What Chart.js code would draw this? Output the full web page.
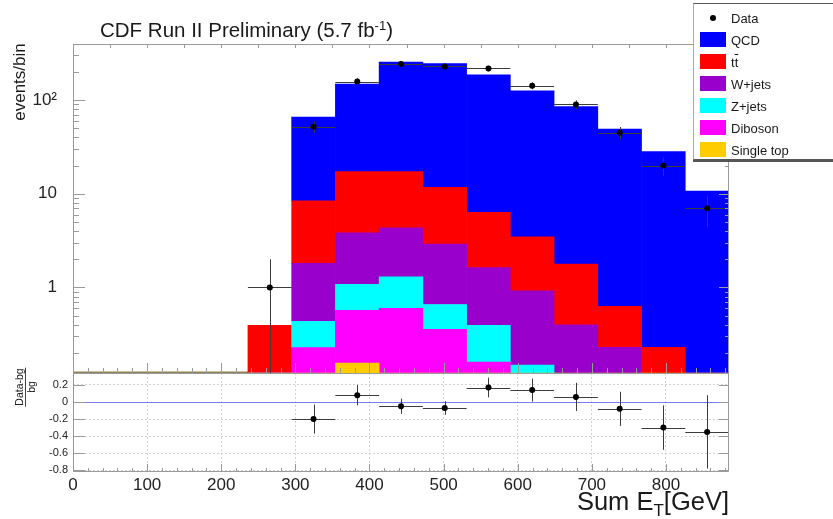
<!DOCTYPE html>
<html>
<head>
<meta charset="utf-8">
<title>Sum ET distribution</title>
<script src="https://cdn.jsdelivr.net/npm/chart.js@4.4.0/dist/chart.umd.min.js"></script>
<style>
  html, body { margin: 0; padding: 0; background: #fff; }
  #wrap { position: relative; width: 833px; height: 519px; overflow: hidden;
          font-family: "Liberation Sans", Arial, sans-serif; color: #1a1a1a; }
  canvas { position: absolute; left: 0; }
  #main { top: 0; }
  #ratio { top: 372px; }
  .txt { position: absolute; white-space: nowrap; line-height: 1; }
  #title { left: 100px; top: 20px; font-size: 20.5px; }
  #title sup { font-size: 13px; line-height: 0; vertical-align: 0.55em; }
  #ytitle { left: 19px; top: 82px; font-size: 17px; transform: translate(-50%, -50%) rotate(-90deg); }
  #rtitle { left: 25px; top: 387px; font-size: 10.5px; text-align: center;
            transform: translate(-50%, -50%) rotate(-90deg); }
  #rtitle span { display: block; padding: 0 1px; }
  #rtitle span:first-child { border-bottom: 1px solid #444; }
  #xtitle { right: 104px; top: 489px; font-size: 25.5px; }
  #xtitle sub { font-size: 17px; line-height: 0; vertical-align: -0.35em; }
  #legend { position: absolute; left: 693px; top: 3px; width: 150px; height: 155px; background: #fff;
            border: 1px solid #555; border-left-color: #aaa; box-shadow: 0 2px 0 #555; }
  .row { position: absolute; left: 0; width: 100%; height: 22px; font-size: 13px; }
  .sw { position: absolute; left: 6px; top: 3px; width: 26px; height: 15px; }
  .dot { position: absolute; left: 16px; top: 8px; width: 6px; height: 6px; border-radius: 50%; background: #000; }
  .lab { position: absolute; left: 37px; top: 5px; line-height: 1; white-space: nowrap; }
  .ovl { text-decoration: overline; }
</style>
</head>
<body>
<div id="wrap">
  <canvas id="main" width="833" height="373"></canvas>
  <canvas id="ratio" width="833" height="147"></canvas>
  <div id="title" class="txt">CDF Run II Preliminary (5.7 fb<sup>-1</sup>)</div>
  <div id="ytitle" class="txt">events/bin</div>
  <div id="rtitle" class="txt"><span>Data-bg</span><span>bg</span></div>
  <div id="xtitle" class="txt">Sum E<sub>T</sub>[GeV]</div>
  <div id="legend"></div>
</div>
<script>
// bin centres in GeV (bins are 59 GeV wide)
const binCenters = [265.5, 324.5, 383.5, 442.5, 501.5, 560.5, 619.5, 678.5, 737.5, 796.5, 855.5];
const binWidth = 59;

// expected backgrounds per bin, stacked bottom to top
const singleTop = [0, 0.08, 0.156, 0.1, 0.08, 0.05, 0.03, 0.02, 0.01, 0.005, 0];
const diboson   = [0, 0.148, 0.414, 0.5, 0.278, 0.11, 0.07, 0.03, 0.02, 0.015, 0.01];
const zJets     = [0, 0.208, 0.51, 0.7, 0.3, 0.235, 0.048, 0.05, 0.03, 0.02, 0.01];
const wJets     = [0, 1.37, 2.76, 3.04, 2.24, 1.23, 0.77, 0.3, 0.17, 0.06, 0.03];
const ttbar     = [0.395, 6.62, 13.4, 12.9, 8.8, 4.72, 2.56, 1.38, 0.4, 0.13, 0.05];
const qcd       = [0, 57.4, 131, 238, 234, 180, 122.5, 83.7, 48.4, 28.0, 10.6];

// observed events and their errors
const data    = [1, 52, 158, 243, 229, 218, 143, 90, 45, 20, 7];
const dataErr = [1, 7.2, 12.6, 15.6, 15.1, 14.8, 12.0, 9.5, 6.7, 4.5, 2.6];

// (data - bg) / bg
const ratio    = [null, -0.2, 0.08, -0.05, -0.07, 0.17, 0.14, 0.06, -0.08, -0.3, -0.35];
const ratioErr = [null, 0.17, 0.12, 0.09, 0.08, 0.115, 0.135, 0.165, 0.2, 0.26, 0.43];

// tick labels
const xTicks = [0, 100, 200, 300, 400, 500, 600, 700, 800];
const yTicks = [1, 10, 100];
const yTickLabels = ['1', '10', '10\u00b2'];
const ratioTicks = [-0.8, -0.6, -0.4, -0.2, 0, 0.2];

const xMax = 885;

Chart.defaults.font.family = '"Liberation Sans", Arial, sans-serif';
Chart.defaults.color = '#222';

const backgrounds = [
  { label: 'Single top', html: 'Single top', color: '#ffcc00', values: singleTop },
  { label: 'Diboson', html: 'Diboson', color: '#ff00ff', values: diboson },
  { label: 'Z+jets', html: 'Z+jets', color: '#00ffff', values: zJets },
  { label: 'W+jets', html: 'W+jets', color: '#9900cc', values: wJets },
  { label: 'ttbar', html: 't<span class="ovl">t</span>', color: '#ff0000', values: ttbar },
  { label: 'QCD', html: 'QCD', color: '#0000ff', values: qcd },
];

const pts = (vals) => binCenters.map((x, i) => ({ x, y: vals[i] })).filter(p => p.y !== null);

// fixed axis sizes, and no extra room reserved for end labels
const fixWidth = (w) => (s) => { s.width = w; s.paddingTop = 0; s.paddingBottom = 0; };
const fixHeight = (h) => (s) => { s.height = h; s.paddingLeft = 0; s.paddingRight = 0; };

// ROOT style frame: thin box with inward ticks on all four sides
const rootFrame = {
  id: 'rootFrame',
  beforeDatasetsDraw(chart, args, opts) {
    const { ctx, chartArea: a, scales: { y } } = chart;
    ctx.save();
    if (opts.baseLine) {
      ctx.strokeStyle = opts.baseLine;
      ctx.lineWidth = 1.5;
      ctx.beginPath();
      ctx.moveTo(a.left, a.bottom - 0.75);
      ctx.lineTo(a.right, a.bottom - 0.75);
      ctx.stroke();
    }
    if (opts.zeroLine) {
      const py = Math.round(y.getPixelForValue(0)) + 0.5;
      ctx.strokeStyle = opts.zeroLine;
      ctx.lineWidth = 1.2;
      ctx.beginPath();
      ctx.moveTo(a.left, py);
      ctx.lineTo(a.right, py);
      ctx.stroke();
    }
    ctx.restore();
  },
  afterDatasetsDraw(chart, args, opts) {
    const { ctx, chartArea: a, scales: { x, y } } = chart;
    const line = (x0, y0, x1, y1) => { ctx.beginPath(); ctx.moveTo(x0, y0); ctx.lineTo(x1, y1); ctx.stroke(); };
    ctx.save();
    ctx.lineWidth = 1;
    ctx.strokeStyle = '#9a9a9a';

    for (let v = 0; v <= x.max; v += 20) {
      const px = Math.round(x.getPixelForValue(v)) + 0.5;
      line(px, a.bottom, px, a.bottom - (v % 100 === 0 ? opts.xMajor : opts.xMinor));
    }
    if (opts.topStep) {
      for (let v = 0; v <= x.max; v += opts.topStep) {
        const px = Math.round(x.getPixelForValue(v)) + 0.5;
        line(px, a.top, px, a.top + 4);
      }
    }
    opts.yMarks(y).forEach(([v, major]) => {
      const py = Math.round(y.getPixelForValue(v)) + 0.5;
      if (py < a.top || py > a.bottom) return;
      const len = major ? 12 : 6;
      line(a.left, py, a.left + len, py);
      line(a.right, py, a.right - len + 2, py);
    });

    const l = Math.round(a.left) + 0.5, r = Math.round(a.right) - 0.5;
    const t = Math.round(a.top) + 0.5, b = Math.round(a.bottom) - 0.5;
    line(l, t, r, t);
    line(r, t, r, b);
    if (opts.bottomEdge) line(l, b, r, b);
    ctx.strokeStyle = opts.leftColor || '#9a9a9a';
    line(l, t, l, b);
    ctx.restore();
  }
};

// error bars for datasets carrying yErr / xErr
const errorBars = {
  id: 'errorBars',
  beforeDatasetDraw(chart, args) {
    const ds = chart.data.datasets[args.index];
    if (!ds.yErr) return;
    const { ctx, chartArea: a, scales: { x, y } } = chart;
    ctx.save();
    ctx.beginPath();
    ctx.rect(a.left, a.top, a.width, a.height);
    ctx.clip();
    ctx.strokeStyle = '#3c3c3c';
    ctx.lineWidth = 1;
    ds.data.forEach((p, i) => {
      const px = Math.round(x.getPixelForValue(p.x)) + 0.5;
      const py = Math.round(y.getPixelForValue(p.y)) + 0.5;
      const lo = Math.max(p.y - ds.yErr[i], y.min);
      ctx.beginPath();
      ctx.moveTo(x.getPixelForValue(p.x - ds.xErr), py);
      ctx.lineTo(x.getPixelForValue(p.x + ds.xErr), py);
      ctx.moveTo(px, y.getPixelForValue(p.y + ds.yErr[i]));
      ctx.lineTo(px, y.getPixelForValue(lo));
      ctx.stroke();
    });
    ctx.restore();
  }
};

const logMarks = (y) => {
  const out = [];
  for (let d = 0.1; d <= 1000; d *= 10) {
    for (let k = 1; k < 10; k++) {
      const v = k * d;
      if (v >= y.min && v <= y.max) out.push([v, k === 1]);
    }
  }
  return out;
};

new Chart(document.getElementById('main'), {
  type: 'bar',
  data: {
    datasets: [
      {
        type: 'scatter',
        label: 'Data',
        data: pts(data),
        yErr: dataErr,
        xErr: binWidth / 2,
        stack: 'data',
        pointRadius: 3,
        pointBackgroundColor: '#000',
        pointBorderWidth: 0,
        order: -1,
      },
      ...backgrounds.map(b => ({
        label: b.label,
        data: pts(b.values),
        backgroundColor: b.color,
        borderWidth: 0,
        stack: 'bg',
        barPercentage: 1,
        categoryPercentage: 1,
      })),
    ],
  },
  options: {
    responsive: false,
    animation: false,
    layout: { autoPadding: false, padding: { top: 44, right: 104, left: 0, bottom: 0 } },
    plugins: {
      legend: { display: false },
      tooltip: { enabled: false },
      rootFrame: { xMajor: 10, xMinor: 5, topStep: 50, yMarks: logMarks, baseLine: '#948352' },
    },
    scales: {
      x: { type: 'linear', min: 0, max: xMax, offset: false, stacked: true, display: false },
      y: {
        type: 'logarithmic',
        min: 0.122,
        max: 398,
        stacked: true,
        afterFit: fixWidth(73),
        afterBuildTicks: (s) => { s.ticks = yTicks.map(value => ({ value })); },
        grid: { display: false },
        border: { display: false },
        ticks: {
          autoSkip: false,
          padding: 8,
          font: { size: 17 },
          callback: (v) => yTickLabels[yTicks.indexOf(v)] ?? '',
        },
      },
    },
  },
  plugins: [rootFrame, errorBars],
});

new Chart(document.getElementById('ratio'), {
  type: 'scatter',
  data: {
    datasets: [{
      label: 'ratio',
      data: pts(ratio),
      yErr: ratioErr.filter(e => e !== null),
      xErr: binWidth / 2,
      pointRadius: 3,
      pointBackgroundColor: '#000',
      pointBorderWidth: 0,
    }],
  },
  options: {
    responsive: false,
    animation: false,
    layout: { autoPadding: false, padding: { top: 1, right: 104, left: 0, bottom: 0 } },
    plugins: {
      legend: { display: false },
      tooltip: { enabled: false },
      rootFrame: {
        xMajor: 8, xMinor: 4, bottomEdge: true, leftColor: '#8c8cec', zeroLine: '#7b7bff',
        yMarks: () => ratioTicks.map(v => [v, true]),
      },
    },
    scales: {
      x: {
        type: 'linear', min: 0, max: xMax,
        afterFit: fixHeight(47),
        afterBuildTicks: (s) => { s.ticks = xTicks.map(value => ({ value })); },
        grid: { color: '#d2d2d2', drawTicks: false },
        border: { display: false, dash: [2, 2] },
        ticks: { autoSkip: false, maxRotation: 0, padding: 3, font: { size: 17 } },
      },
      y: {
        type: 'linear', min: -0.82, max: 0.34,
        afterFit: fixWidth(73),
        afterBuildTicks: (s) => { s.ticks = ratioTicks.map(value => ({ value })); },
        grid: { color: '#d2d2d2', drawTicks: false },
        border: { display: false, dash: [2, 2] },
        ticks: { padding: 5, font: { size: 11 }, callback: (v) => String(Math.round(v * 10) / 10) },
      },
    },
  },
  plugins: [rootFrame, errorBars],
});

// legend box
const legendRows = [{ html: 'Data', dot: true }, ...backgrounds.slice().reverse()];
const legend = document.getElementById('legend');
legendRows.forEach((r, i) => {
  const row = document.createElement('div');
  row.className = 'row';
  row.style.top = (2.5 + 22.1 * i) + 'px';
  row.innerHTML = (r.dot ? '<span class="dot"></span>' : `<span class="sw" style="background:${r.color}"></span>`)
    + `<span class="lab">${r.html}</span>`;
  legend.appendChild(row);
});
</script>
</body>
</html>
